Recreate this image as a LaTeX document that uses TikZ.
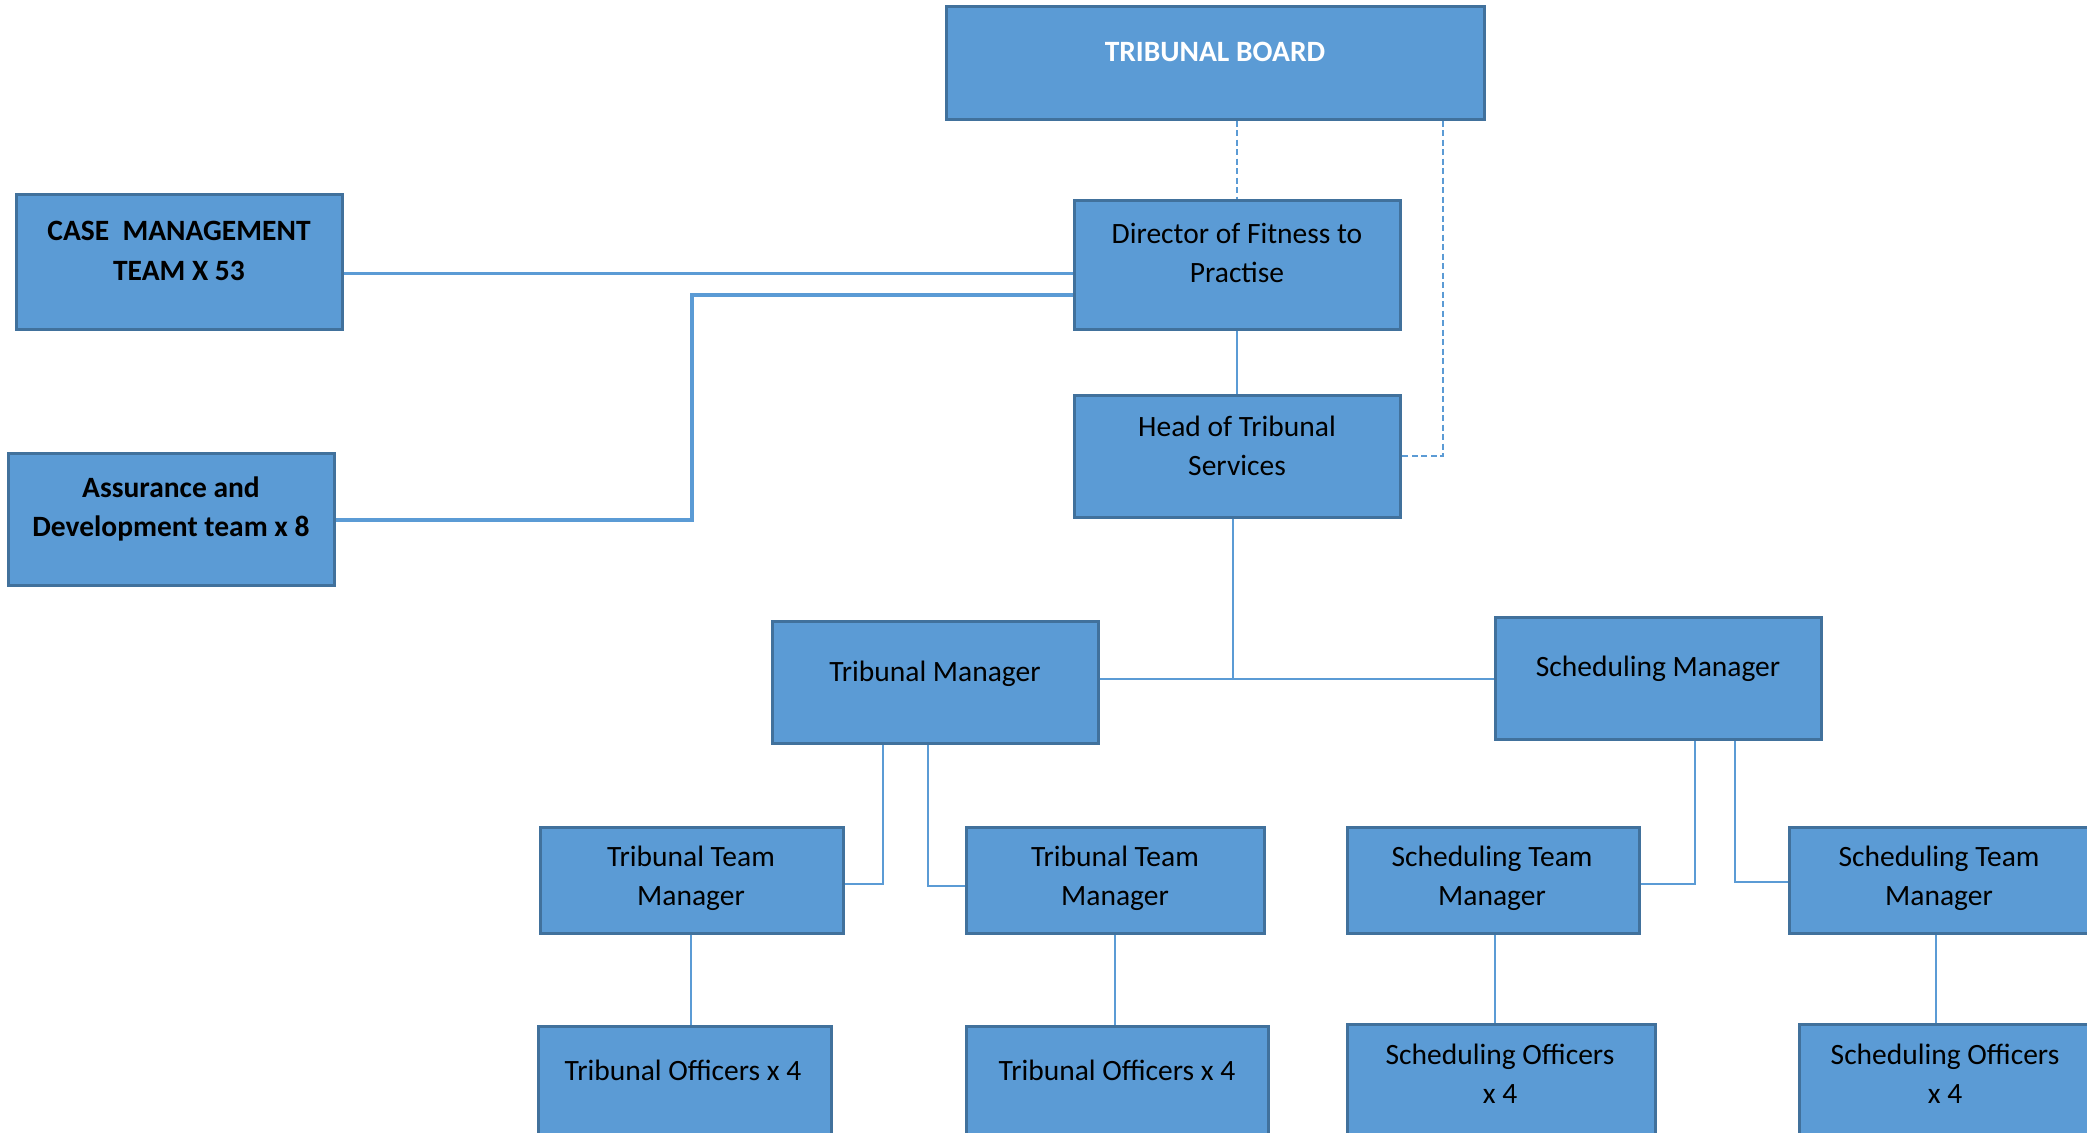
\documentclass[tikz,border=0pt]{standalone}
\usepackage{fontspec}
\setmainfont{Carlito}
\definecolor{boxfill}{HTML}{5B9BD5}
\definecolor{boxline}{HTML}{41719C}
\definecolor{conn}{HTML}{5B9BD5}
\begin{document}
\begin{tikzpicture}[x=1pt,y=-1pt,
  box/.style={draw=boxline, fill=boxfill, line width=3pt, inner sep=0pt, rectangle},
  txt/.style={font=\fontsize{29.5}{39}\selectfont, align=center, inner sep=0pt, text=black},
  thinconn/.style={draw=conn, line width=1.6pt},
  thickconn/.style={draw=conn, line width=3.6pt},
  dashconn/.style={draw=conn, line width=1.6pt, dash pattern=on 6pt off 3.5pt}]
\useasboundingbox (0,0) rectangle (2087,1132);
\clip (0,0) rectangle (2087,1132);
\fill[white] (0,0) rectangle (2087,1132);
% boxes
\node[box, minimum width=538pt, minimum height=112pt] (board) at (1215,63) {};
\node[box, minimum width=326pt, minimum height=129pt] (dir) at (1237,264.5) {};
\node[box, minimum width=326pt, minimum height=122pt] (head) at (1237,456) {};
\node[box, minimum width=326pt, minimum height=135pt] (case) at (179,261.5) {};
\node[box, minimum width=326pt, minimum height=132pt] (assur) at (171,519) {};
\node[box, minimum width=326pt, minimum height=122pt] (tm) at (935,682.5) {};
\node[box, minimum width=326pt, minimum height=122pt] (sm) at (1658,678.5) {};
\node[box, minimum width=303pt, minimum height=106pt] (ttm1) at (691.5,880) {};
\node[box, minimum width=298pt, minimum height=106pt] (ttm2) at (1115,880) {};
\node[box, minimum width=292pt, minimum height=106pt] (stm1) at (1493,880) {};
\node[box, minimum width=310pt, minimum height=106pt] (stm2) at (1944,880) {};
\node[box, minimum width=293pt, minimum height=130pt] (to1) at (684.5,1091) {};
\node[box, minimum width=302pt, minimum height=130pt] (to2) at (1117,1091) {};
\node[box, minimum width=308pt, minimum height=130pt] (so1) at (1501,1089) {};
\node[box, minimum width=310pt, minimum height=130pt] (so2) at (1954,1089) {};
% texts
\node[txt, text=white, font=\fontsize{29.5}{39}\selectfont\bfseries] (t-board) at (1215,54) {\strut TRIBUNAL BOARD};
\node[txt] (t-dir) at (1237,255.5) {\strut Director of Fitness to\\\strut Practise};
\node[txt] (t-head) at (1237,448) {\strut Head of Tribunal\\\strut Services};
\node[txt, font=\fontsize{29.5}{40}\selectfont\bfseries] (t-case) at (179,252) {\strut CASE\ \ MANAGEMENT\\\strut TEAM X 53};
\node[txt, font=\fontsize{29.5}{39}\selectfont\bfseries] (t-assur) at (171,509.5) {\strut Assurance and\\\strut Development team x 8};
\node[txt] (t-tm) at (935,674) {\strut Tribunal Manager};
\node[txt] (t-sm) at (1658,669) {\strut Scheduling Manager};
\node[txt] (t-ttm1) at (691,878) {\strut Tribunal Team\\\strut Manager};
\node[txt] (t-ttm2) at (1115,878) {\strut Tribunal Team\\\strut Manager};
\node[txt] (t-stm1) at (1492,878) {\strut Scheduling Team\\\strut Manager};
\node[txt] (t-stm2) at (1939,878) {\strut Scheduling Team\\\strut Manager};
\node[txt] (t-to1) at (683,1073) {\strut Tribunal Officers x 4};
\node[txt] (t-to2) at (1117,1073) {\strut Tribunal Officers x 4};
\node[txt] (t-so1) at (1500,1076.5) {\strut Scheduling Officers\\\strut x 4};
\node[txt] (t-so2) at (1945,1076.5) {\strut Scheduling Officers\\\strut x 4};
% helper coordinates
\coordinate (bx) at (1443,0);
\coordinate (cl) at (0,273.5);
\coordinate (a1) at (692,520);
\coordinate (a2) at (692,295);
\coordinate (hj) at (1233,679);
\coordinate (t1) at (883,884);
\coordinate (t2) at (928,886);
\coordinate (s1) at (1695,884);
\coordinate (s2) at (1735,882);
\coordinate (v1) at (691,0);
\coordinate (v3) at (1495,0);
\coordinate (v4) at (1936,0);
% connectors
\draw[dashconn] (board.south -| dir.north) -- (dir.north);
\draw[dashconn] (board.south -| bx) |- (head.east);
\draw[thinconn] (dir.south) -- (head.north);
\draw[thickconn] (case.east |- cl) -- (dir.west |- cl);
\draw[thickconn] (assur.east |- a1) -- (a1) -- (a2) -- (dir.west |- a2);
\draw[thinconn] (head.south -| hj) -- (hj);
\draw[thinconn] (tm.east |- hj) -- (sm.west |- hj);
\draw[thinconn] (tm.south -| t1) -- (t1) -- (ttm1.east |- t1);
\draw[thinconn] (tm.south -| t2) -- (t2) -- (ttm2.west |- t2);
\draw[thinconn] (sm.south -| s1) -- (s1) -- (stm1.east |- s1);
\draw[thinconn] (sm.south -| s2) -- (s2) -- (stm2.west |- s2);
\draw[thinconn] (ttm1.south -| v1) -- (to1.north -| v1);
\draw[thinconn] (ttm2.south) -- (ttm2.south |- to2.north);
\draw[thinconn] (stm1.south -| v3) -- (so1.north -| v3);
\draw[thinconn] (stm2.south -| v4) -- (so2.north -| v4);
\end{tikzpicture}
\end{document}
